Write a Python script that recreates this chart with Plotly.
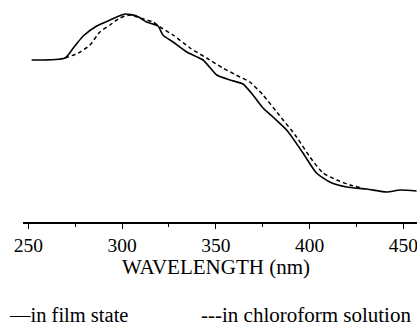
import plotly.graph_objects as go

# Film state (solid)
film_wl = [251.8, 269.6, 274.0, 279.3, 286.5, 293.6, 301.6, 307.8, 313.1, 319.2, 321.8, 327.2,
           334.5, 343.2, 350.5, 357.6, 364.5, 369.8, 375.2, 380.5, 387.8, 396.5, 403.7,
           410.8, 419.7, 430.5, 441.1, 448.2, 457.1]
film_abs = [0.81, 0.82, 0.87, 0.93, 0.98, 1.01, 1.04, 1.03, 1.00, 0.98, 0.935, 0.90,
            0.85, 0.81, 0.735, 0.71, 0.69, 0.635, 0.57, 0.525, 0.46, 0.345, 0.245,
            0.20, 0.175, 0.165, 0.15, 0.16, 0.155]

# Chloroform solution (dashed)
sol_wl = [269.6, 276.7, 282.9, 288.2, 293.6, 298.9, 304.2, 309.6, 316.5, 320.2, 327.2, 336.3,
          345.1, 353.8, 362.9, 368.2, 375.2, 382.5, 393.1, 400.2, 407.2, 414.5, 421.5, 428.0]
sol_abs = [0.82, 0.845, 0.885, 0.95, 0.985, 1.02, 1.035, 1.02, 1.00, 0.975, 0.935, 0.87,
           0.82, 0.77, 0.725, 0.70, 0.635, 0.55, 0.425, 0.325, 0.245, 0.21, 0.185, 0.17]

tick_vals = [250, 300, 350, 400, 450]
tick_text = ["250", "300", "350", "400", "450"]

FONT = "Liberation Serif, Times New Roman, serif"

fig = go.Figure()
fig.add_trace(go.Scatter(x=film_wl, y=film_abs, mode="lines",
                         line=dict(color="black", width=1.6, shape="spline", smoothing=0.6)))
fig.add_trace(go.Scatter(x=sol_wl, y=sol_abs, mode="lines",
                         line=dict(color="black", width=1.5, dash="4px,3px", shape="spline", smoothing=0.6)))

fig.update_layout(
    width=417, height=327,
    margin=dict(l=23, r=0, t=2, b=105),
    plot_bgcolor="white", paper_bgcolor="white",
    showlegend=False,
    font=dict(family=FONT, color="black", size=20),
    xaxis=dict(range=[247.2, 457.3], showgrid=False, zeroline=False,
               showline=True, linecolor="black", linewidth=1.5,
               ticks="outside", ticklen=5, tickwidth=1.3, tickcolor="black",
               tickvals=tick_vals, ticktext=tick_text, ticklabeloverflow="allow",
               tickfont=dict(family=FONT, size=19.5, color="black"),
               minor=dict(tickvals=[275, 325, 375, 425], ticks="outside", ticklen=3,
                          tickwidth=1.2, tickcolor="black")),
    yaxis=dict(range=[0, 1.1], visible=False),
    annotations=[
        dict(text="WAVELENGTH (nm)", x=0.49, y=-0.205, xref="paper", yref="paper",
             showarrow=False, xanchor="center", yanchor="middle",
             font=dict(family=FONT, size=21, color="black")),
        dict(text="—in film state", x=-0.04, y=-0.4227, xref="paper", yref="paper",
             showarrow=False, xanchor="left", yanchor="middle",
             font=dict(family=FONT, size=20.5, color="black")),
        dict(text="---in chloroform solution", x=0.99, y=-0.4227, xref="paper", yref="paper",
             showarrow=False, xanchor="right", yanchor="middle",
             font=dict(family=FONT, size=21, color="black")),
    ],
)

fig.write_html("out.html", config={"displayModeBar": False},
               post_script="document.body.style.margin='0';document.body.style.padding='0';")
